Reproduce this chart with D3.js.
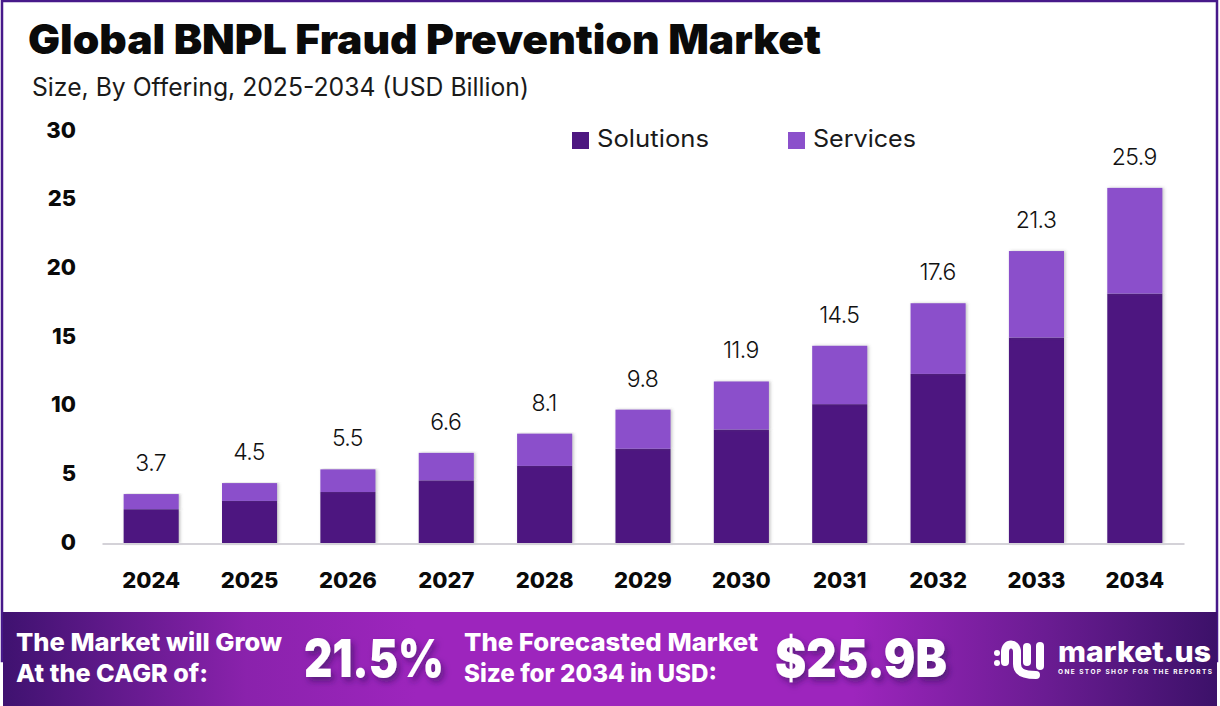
<!DOCTYPE html>
<html>
<head>
<meta charset="utf-8">
<script src="https://cdn.jsdelivr.net/npm/d3@7"></script>
<style>
html, body { margin: 0; padding: 0; background: #fff; }
svg { display: block; }
text { font-family: "Inter", "Lato", sans-serif; }
</style>
</head>
<body>
<svg id="chart" width="1220" height="706"></svg>
<script>
// Values
var years = ["2024","2025","2026","2027","2028","2029","2030","2031","2032","2033","2034"];
var solutions = [2.5, 3.1, 3.75, 4.6, 5.65, 6.9, 8.3, 10.15, 12.35, 15.0, 18.2];
var services = [1.1, 1.3, 1.65, 2.0, 2.35, 2.85, 3.5, 4.25, 5.15, 6.3, 7.7];
var totalLabels = ["3.7","4.5","5.5","6.6","8.1","9.8","11.9","14.5","17.6","21.3","25.9"];
var yTicks = [0, 5, 10, 15, 20, 25, 30];
var seriesNames = ["Solutions", "Services"];
var seriesColors = ["#4d1780", "#8b50cb"];

var svg = d3.select("#chart");
var defs = svg.append("defs");

// Banner gradient
var grad = defs.append("linearGradient").attr("id", "banner");
grad.append("stop").attr("offset", "0").attr("stop-color", "#3f1270");
grad.append("stop").attr("offset", "0.2").attr("stop-color", "#8a22ac");
grad.append("stop").attr("offset", "0.34").attr("stop-color", "#9d25bd");
grad.append("stop").attr("offset", "0.7").attr("stop-color", "#9d25bd");
grad.append("stop").attr("offset", "0.86").attr("stop-color", "#6a1c92");
grad.append("stop").attr("offset", "1").attr("stop-color", "#3c1169");

// Soft shadow behind bars
var barShadow = defs.append("filter").attr("id", "barShadow")
    .attr("x", "-20%").attr("y", "-5%").attr("width", "140%").attr("height", "110%");
barShadow.append("feDropShadow").attr("dx", 1.5).attr("dy", 0).attr("stdDeviation", 1.5)
    .attr("flood-color", "#555").attr("flood-opacity", 0.35);

var textShadow = defs.append("filter").attr("id", "textShadow")
    .attr("x", "-10%").attr("y", "-20%").attr("width", "125%").attr("height", "150%");
textShadow.append("feDropShadow").attr("dx", 3).attr("dy", 4).attr("stdDeviation", 3)
    .attr("flood-color", "#2a0a50").attr("flood-opacity", 0.55);

// Frame
svg.append("rect").attr("x", 2).attr("y", 1).attr("width", 1215).attr("height", 660)
    .attr("fill", "#fff").attr("stroke", "#47198a").attr("stroke-width", 2.5);

// Scales
var x = d3.scaleBand().domain(years).range([102, 1184]).paddingInner(0.44).paddingOuter(0.22);
var y = d3.scaleLinear().domain([0, 30]).range([543.5, 131.6]);

// Titles
svg.append("text").attr("x", 28).attr("y", 54)
    .attr("font-size", 41).attr("font-weight", 900).attr("fill", "#0a0a0a")
    .attr("textLength", 793).attr("lengthAdjust", "spacingAndGlyphs")
    .text("Global BNPL Fraud Prevention Market");
svg.append("text").attr("x", 32).attr("y", 96)
    .attr("font-size", 25).attr("font-weight", 400).attr("fill", "#1a1a1a")
    .attr("textLength", 497).attr("lengthAdjust", "spacingAndGlyphs")
    .text("Size, By Offering, 2025-2034 (USD Billion)");

// Y axis labels
var yAxis = svg.append("g").attr("transform", "translate(76,-1.5)")
    .call(d3.axisLeft(y).tickValues(yTicks).tickSize(0).tickPadding(0));
yAxis.select(".domain").remove();
yAxis.selectAll("text")
    .attr("dy", "0.32em")
    .attr("font-size", 22).attr("font-weight", 800).attr("fill", "#0a0a0a")
    .style("font-family", "Inter");

// Stacked bars
var rows = years.map(function(yr, i) {
    return { year: yr, Solutions: solutions[i], Services: services[i] };
});
var stacked = d3.stack().keys(seriesNames)(rows);
svg.append("g").selectAll("g").data(stacked).join("g")
    .attr("fill", function(d, i) { return seriesColors[i]; })
    .selectAll("rect").data(function(d) { return d; }).join("rect")
    .attr("x", function(d) { return x(d.data.year); })
    .attr("y", function(d) { return y(d[1]); })
    .attr("width", x.bandwidth())
    .attr("height", function(d) { return y(d[0]) - y(d[1]); })
    .attr("filter", "url(#barShadow)");

// X axis
var xAxis = svg.append("g").attr("transform", "translate(0,543.5)")
    .call(d3.axisBottom(x).tickSize(0).tickPadding(29));
xAxis.select(".domain").attr("stroke", "#d4d2d8").attr("stroke-width", 2);
xAxis.selectAll("text")
    .attr("font-size", 22).attr("font-weight", 800).attr("fill", "#0a0a0a")
    .style("font-family", "Inter");

// Total labels
svg.append("g").selectAll("text").data(years).join("text")
    .attr("x", function(d) { return x(d) + x.bandwidth() / 2 - 0.5; })
    .attr("y", function(d, i) { return y(solutions[i] + services[i]) - 23; })
    .attr("text-anchor", "middle")
    .attr("font-size", 23).attr("font-weight", 300).attr("fill", "#111")
    .attr("letter-spacing", -0.6)
    .text(function(d, i) { return totalLabels[i]; });

// Legend
var legendX = [572, 788];
var legendLen = [112, 103];
var legend = svg.append("g").selectAll("g").data(seriesNames).join("g")
    .attr("transform", function(d, i) { return "translate(" + legendX[i] + ",132)"; });
legend.append("rect").attr("width", 17).attr("height", 17)
    .attr("fill", function(d, i) { return seriesColors[i]; });
legend.append("text").attr("x", 25).attr("y", 15)
    .attr("font-size", 24).attr("font-weight", 400).attr("fill", "#1a1a1a")
    .attr("textLength", function(d, i) { return legendLen[i]; })
    .attr("lengthAdjust", "spacingAndGlyphs")
    .text(function(d) { return d; });

// Bottom banner
svg.append("rect").attr("x", 3).attr("y", 612).attr("width", 1214).attr("height", 94)
    .attr("fill", "url(#banner)");

function bannerText(t, px, py, size, len) {
    svg.append("text").attr("x", px).attr("y", py)
        .attr("font-size", size).attr("font-weight", 800).attr("fill", "#fff")
        .attr("textLength", len).attr("lengthAdjust", "spacingAndGlyphs")
        .text(t);
}
bannerText("The Market will Grow", 16, 651, 25, 266);
bannerText("At the CAGR of:", 16, 682, 25, 192);
bannerText("The Forecasted Market", 464, 651, 25, 294);
bannerText("Size for 2034 in USD:", 464, 682, 25, 253);

svg.append("text").attr("x", 304).attr("y", 677)
    .attr("font-size", 52).attr("font-weight", 900).attr("fill", "#fff")
    .attr("textLength", 140).attr("lengthAdjust", "spacingAndGlyphs")
    .attr("filter", "url(#textShadow)").text("21.5%");
svg.append("text").attr("x", 775).attr("y", 677)
    .attr("font-size", 52).attr("font-weight", 900).attr("fill", "#fff")
    .attr("textLength", 172).attr("lengthAdjust", "spacingAndGlyphs")
    .attr("filter", "url(#textShadow)").text("$25.9B");

// market.us logo
var logo = svg.append("g").attr("fill", "none").attr("stroke", "#fff")
    .attr("stroke-width", 8).attr("stroke-linecap", "round");
logo.append("path").attr("d", "M1005 662 L1005 652 C1005 642,1017 642,1017 652 L1017 664 C1017 672,1023 675,1036 675");
logo.append("path").attr("d", "M1027 647 L1027 662");
logo.append("path").attr("d", "M1040 646 L1040 666");
logo.append("circle").attr("cx", 997).attr("cy", 653).attr("r", 3).attr("fill", "#fff").attr("stroke", "none");
logo.append("circle").attr("cx", 997).attr("cy", 663).attr("r", 3).attr("fill", "#fff").attr("stroke", "none");
svg.append("text").attr("x", 1058).attr("y", 662)
    .attr("font-size", 28).attr("font-weight", 800).attr("fill", "#fff")
    .attr("textLength", 153).attr("lengthAdjust", "spacingAndGlyphs")
    .text("market.us");
svg.append("text").attr("x", 1058).attr("y", 674)
    .attr("font-size", 6.5).attr("font-weight", 700).attr("fill", "#fff")
    .attr("textLength", 154).attr("lengthAdjust", "spacing")
    .text("ONE STOP SHOP FOR THE REPORTS");
</script>
</body>
</html>
